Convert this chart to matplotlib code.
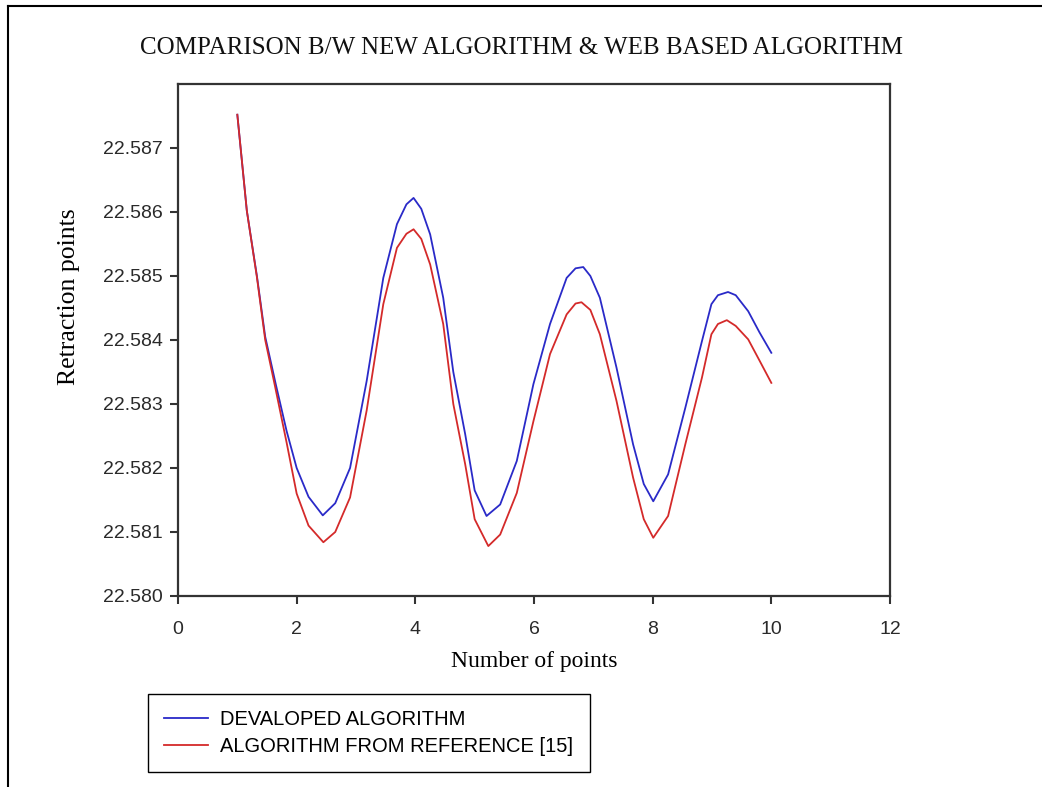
import matplotlib
matplotlib.use("Agg")
import matplotlib.pyplot as plt
from matplotlib.lines import Line2D

# ---- data ----
x_dev = [1.00, 1.16, 1.33, 1.47, 1.65, 1.83, 2.00, 2.20, 2.44, 2.65, 2.90, 3.18,
         3.46, 3.69, 3.85, 3.97, 4.10, 4.25, 4.47, 4.64, 4.84, 5.00, 5.20, 5.43,
         5.71, 5.99, 6.27, 6.55, 6.70, 6.83, 6.95, 7.11, 7.39, 7.67, 7.85, 8.01,
         8.26, 8.55, 8.83, 8.99, 9.10, 9.27, 9.40, 9.61, 9.80, 10.00]
y_dev = [22.58752, 22.58602, 22.58500, 22.58405, 22.58330, 22.58258, 22.58200,
         22.58155, 22.58126, 22.58145, 22.58200, 22.58336, 22.58497, 22.58581,
         22.58612, 22.58622, 22.58605, 22.58565, 22.58466, 22.58350, 22.58253,
         22.58165, 22.58125, 22.58143, 22.58211, 22.58331, 22.58425, 22.58497,
         22.58512, 22.58514, 22.58500, 22.58466, 22.58357, 22.58237, 22.58175,
         22.58148, 22.58190, 22.58294, 22.58398, 22.58456, 22.58470, 22.58475,
         22.58470, 22.58445, 22.58412, 22.58380]

x_ref = [1.00, 1.16, 1.33, 1.47, 1.63, 1.83, 2.00, 2.20, 2.45, 2.65, 2.90, 3.18,
         3.46, 3.69, 3.85, 3.97, 4.10, 4.25, 4.47, 4.64, 4.84, 5.00, 5.23, 5.43,
         5.71, 5.99, 6.27, 6.55, 6.70, 6.80, 6.95, 7.11, 7.39, 7.67, 7.85, 8.01,
         8.26, 8.55, 8.83, 8.99, 9.10, 9.25, 9.40, 9.61, 9.80, 10.00]
y_ref = [22.58752, 22.58602, 22.58498, 22.58400, 22.58330, 22.58240, 22.58160,
         22.58110, 22.58084, 22.58100, 22.58154, 22.58290, 22.58456, 22.58544,
         22.58566, 22.58573, 22.58558, 22.58518, 22.58425, 22.58300, 22.58206,
         22.58120, 22.58078, 22.58096, 22.58161, 22.58273, 22.58378, 22.58440,
         22.58457, 22.58459, 22.58447, 22.58409, 22.58305, 22.58185, 22.58120,
         22.58091, 22.58125, 22.58237, 22.58341, 22.58409, 22.58425, 22.58431,
         22.58422, 22.58401, 22.58368, 22.58333]

x_ticks = [0, 2, 4, 6, 8, 10, 12]
y_ticks = [22.580, 22.581, 22.582, 22.583, 22.584, 22.585, 22.586, 22.587]

title = "COMPARISON B/W NEW ALGORITHM & WEB BASED ALGORITHM"
xlabel = "Number of points"
ylabel = "Retraction points"
labels = ["DEVALOPED ALGORITHM", "ALGORITHM FROM REFERENCE [15]"]

BLUE = "#2a2ac8"
RED = "#d42a2a"
SPINE = "#333333"

W, H = 1042, 787
fig = plt.figure(figsize=(W / 100, H / 100), dpi=100)
fig.patch.set_facecolor("white")

# figure border (top and left only)
fig.add_artist(Line2D([8/W, 8/W], [0, 1 - 6/H], transform=fig.transFigure,
                      color="black", lw=1.5))
fig.add_artist(Line2D([8/W, 1], [1 - 6/H, 1 - 6/H], transform=fig.transFigure,
                      color="black", lw=1.5))

ax = fig.add_axes([178/W, 1 - 596/H, (890 - 178)/W, (596 - 84)/H])
l1, = ax.plot(x_dev, y_dev, color=BLUE, lw=1.3)
l2, = ax.plot(x_ref, y_ref, color=RED, lw=1.3)

ax.set_xlim(0, 12)
ax.set_ylim(22.580, 22.588)
ax.set_xticks(x_ticks)
ax.set_xticklabels([str(v) for v in x_ticks])
ax.set_yticks(y_ticks)
ax.set_yticklabels([f"{v:.3f}" for v in y_ticks])

for s in ax.spines.values():
    s.set_color(SPINE)
    s.set_linewidth(1.6)
ax.tick_params(direction="out", length=6, width=1.5, color=SPINE,
               labelsize=14, labelcolor="#2a2a2a", pad=5)
ax.tick_params(axis="x", pad=12)
for t in ax.get_xticklabels() + ax.get_yticklabels():
    t.set_fontfamily("Liberation Sans")

ax.set_xlabel(xlabel, fontfamily="Liberation Serif", fontsize=17, labelpad=9)
fig.text(69/W, 1 - 297/H, ylabel, rotation=90, ha="center", va="center",
         fontfamily="Liberation Serif", fontsize=18.5)

fig.text(521/W, 1 - 48/H, title, ha="center", va="center",
         fontfamily="Liberation Serif", fontsize=18, color="#111111")

leg = fig.legend([l1, l2], labels, loc="upper left",
                 bbox_to_anchor=(148/W, 1 - 694/H),
                 prop={"family": "Liberation Sans", "size": 14.5},
                 frameon=True, fancybox=False, edgecolor="black",
                 framealpha=1, handlelength=2.2, handletextpad=0.6,
                 borderpad=0.8, labelspacing=0.4, borderaxespad=0)
leg.get_frame().set_linewidth(1.0)

fig.savefig("out.png", dpi=100, facecolor="white")
